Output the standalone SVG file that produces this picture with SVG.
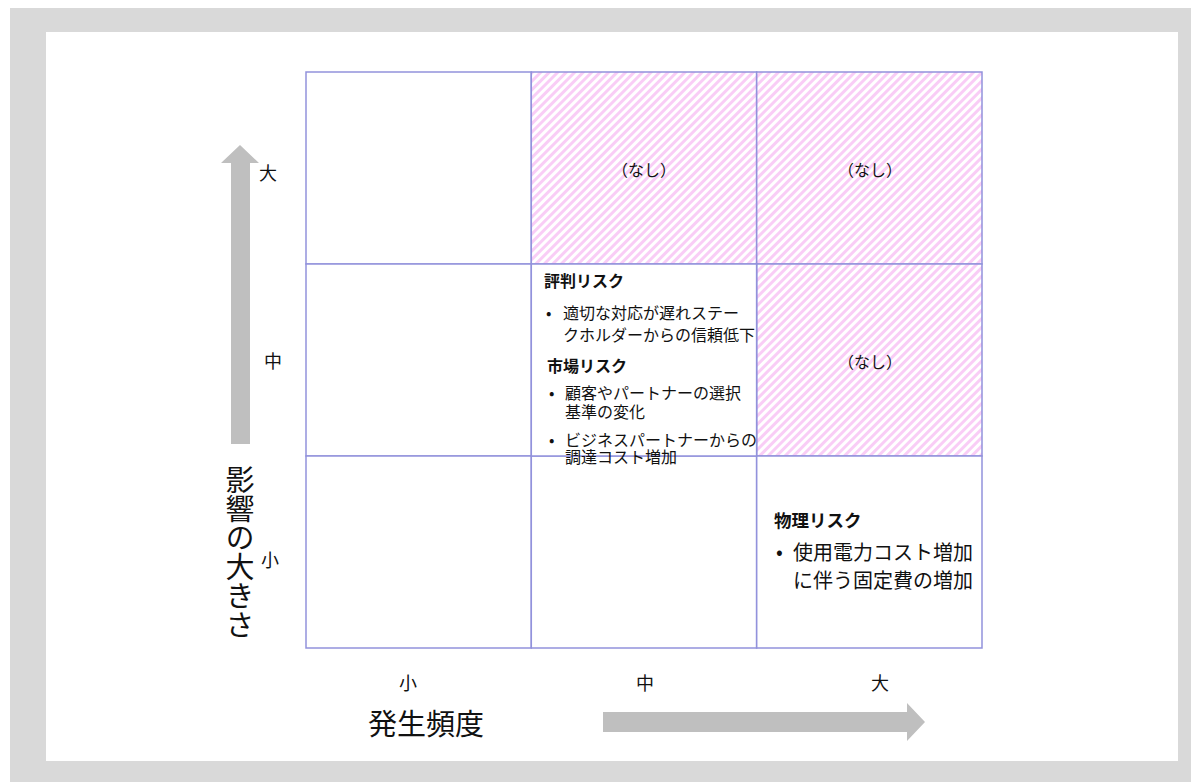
<svg xmlns="http://www.w3.org/2000/svg" width="1191" height="782" viewBox="0 0 1191 782">
<defs>
<pattern id="hatch" patternUnits="userSpaceOnUse" width="6" height="6" patternTransform="rotate(45)">
<rect width="6" height="6" fill="#ffffff"/>
<rect width="3" height="6" fill="#f9cdf6"/>
</pattern>
</defs>
<style>
.cell{stroke:#9292dc;stroke-width:1.5}
.plain{fill:#ffffff}
.hat{fill:url(#hatch)}
text{font-family:"Noto Sans CJK JP","Noto Sans",sans-serif;fill:#111111}
.t16{font-size:16px}
.b16{font-size:16px;font-weight:bold}
.t20{font-size:20px}
.b17{font-size:17.5px;font-weight:bold}
.ax{font-size:18px;text-anchor:middle}
.mid{text-anchor:middle}
.arrow{fill:#bfbfbf}
</style>
<rect x="10" y="8" width="1181" height="774" fill="#d9d9d9"/>
<rect x="46" y="32" width="1132" height="729" fill="#ffffff"/>

<g id="cell-low-high"><rect class="cell plain" x="306" y="72" width="225.3" height="192"/></g>
<g id="cell-mid-high"><rect class="cell hat" x="531.3" y="72" width="225.3" height="192"/>
<text class="t16 mid" x="644" y="176">（なし）</text></g>
<g id="cell-high-high"><rect class="cell hat" x="756.7" y="72" width="225.3" height="192"/>
<text class="t16 mid" x="870" y="176">（なし）</text></g>

<g id="cell-low-mid"><rect class="cell plain" x="306" y="264" width="225.3" height="192"/></g>
<g id="cell-high-mid"><rect class="cell hat" x="756.7" y="264" width="225.3" height="192"/>
<text class="t16 mid" x="870" y="368">（なし）</text></g>

<g id="cell-low-low"><rect class="cell plain" x="306" y="456" width="225.3" height="192"/></g>
<g id="cell-mid-low"><rect class="cell plain" x="531.3" y="456" width="225.3" height="192"/></g>
<g id="cell-high-low"><rect class="cell plain" x="756.7" y="456" width="225.3" height="192"/>
<text class="b17" x="774" y="527">物理リスク</text>
<text class="t20" x="776" y="559">•</text>
<text class="t20" x="793" y="559.5">使用電力コスト増加</text>
<text class="t20" x="793" y="587.5">に伴う固定費の増加</text></g>

<g id="cell-mid-mid"><rect class="cell plain" x="531.3" y="264" width="225.3" height="192"/>
<text class="b16" x="544" y="286.5">評判リスク</text>
<text class="t16" x="546" y="319">•</text>
<text class="t16" x="563" y="319">適切な対応が遅れステー</text>
<text class="t16" x="563" y="341">クホルダーからの信頼低下</text>
<text class="b16" x="547" y="371.5">市場リスク</text>
<text class="t16" x="549" y="398.5">•</text>
<text class="t16" x="565" y="398.5">顧客やパートナーの選択</text>
<text class="t16" x="565" y="417.5">基準の変化</text>
<text class="t16" x="549" y="445.5">•</text>
<text class="t16" x="565" y="445.5">ビジネスパートナーからの</text>
<text class="t16" x="565" y="463">調達コスト増加</text></g>

<g id="axes">
<polygon class="arrow" points="231,444 231,163 221,163 240,145 259,163 250,163 250,444"/>
<polygon class="arrow" points="603,712 907,712 907,703 925,722 907,741 907,732 603,732"/>
</g>

<g id="axis-labels">
<text class="ax" x="268" y="180">大</text>
<text class="ax" x="273" y="368">中</text>
<text class="ax" x="270" y="567">小</text>
<text class="ax" x="408" y="690">小</text>
<text class="ax" x="645" y="690">中</text>
<text class="ax" x="880" y="690">大</text>
<text x="368" y="735" style="font-size:29px">発生頻度</text>
<text x="240" y="465" style="font-size:29px;writing-mode:vertical-rl">影響の大きさ</text>
</g>
</svg>
